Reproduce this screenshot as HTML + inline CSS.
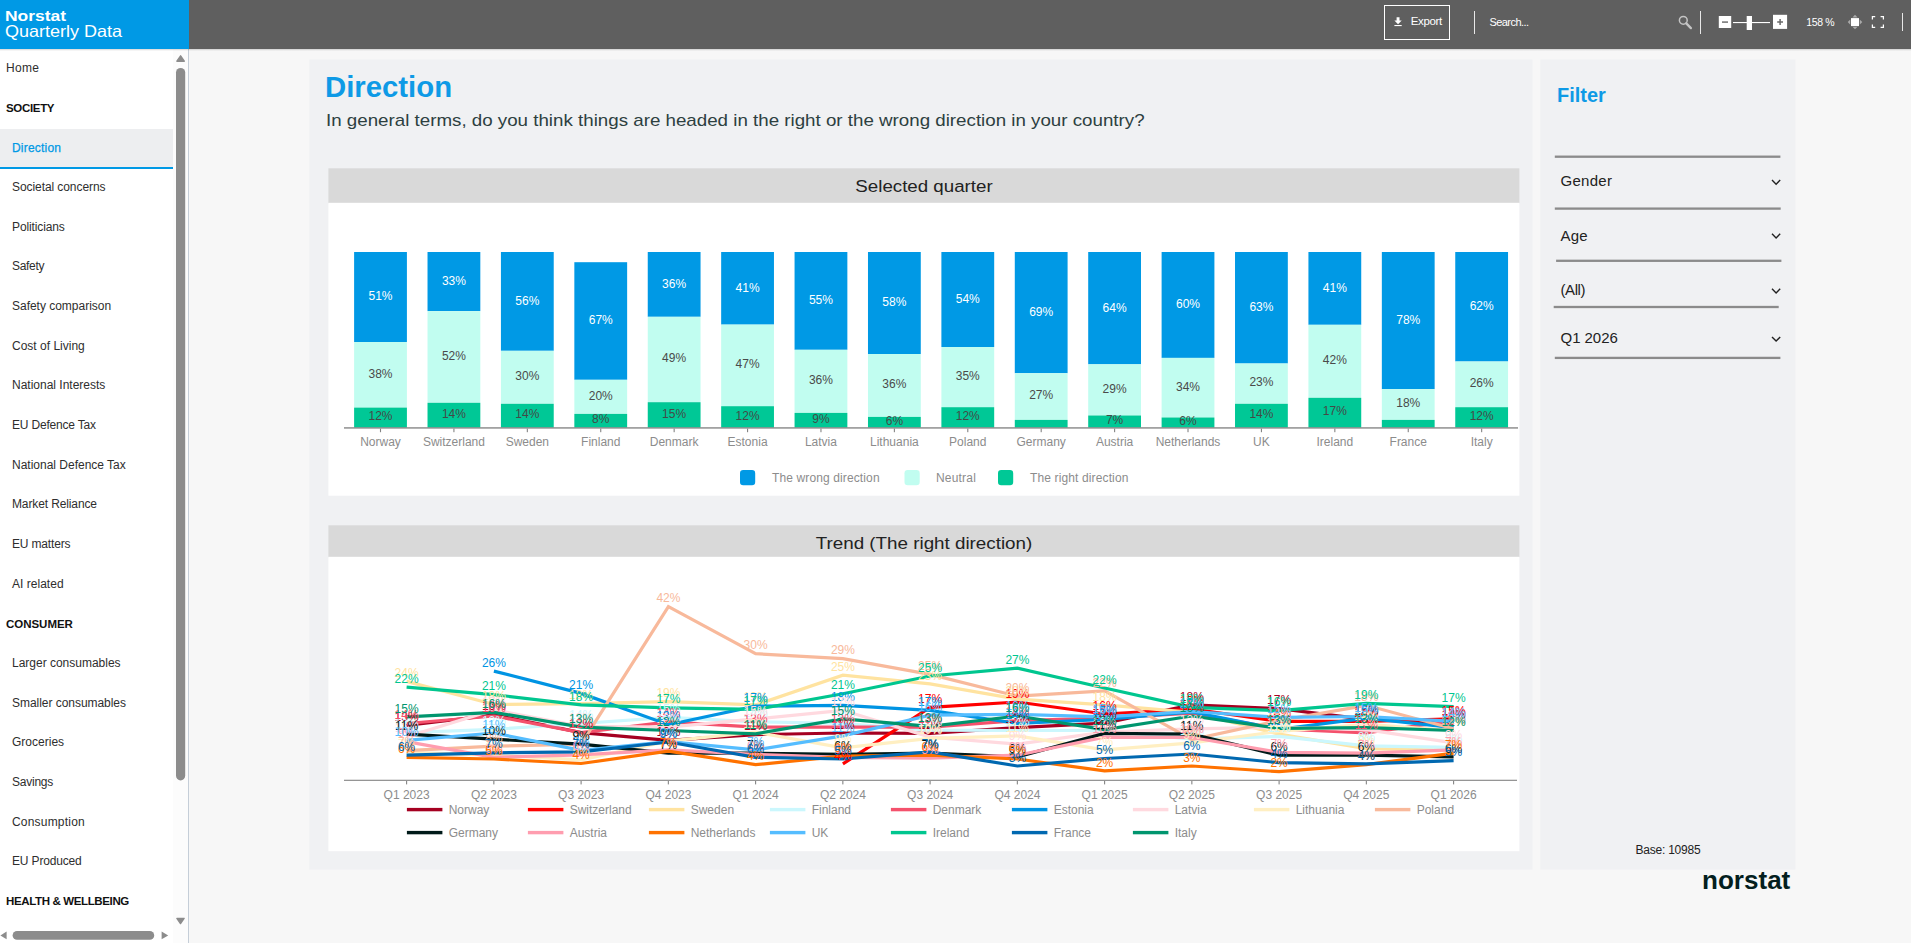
<!DOCTYPE html><html lang="en"><head><meta charset="utf-8"><title>Norstat Quarterly Data - Direction</title>
<style>
*{box-sizing:border-box}
html,body{margin:0;padding:0}
body{width:1911px;height:943px;overflow:hidden;background:#f7f7f7;font-family:"Liberation Sans", sans-serif;position:relative;color:#333}
.abs{position:absolute}
.t{position:absolute;white-space:nowrap;line-height:1}
#hblue{left:0;top:0;width:189px;height:48.5px;background:#0099e5}
#hdark{left:189px;top:0;width:1722px;height:48.5px;background:#5f5f5f}
#hshadow{left:0;top:48.5px;width:1911px;height:2px;background:linear-gradient(rgba(0,0,0,.16),rgba(0,0,0,0))}
#side{left:0;top:48.5px;width:188px;height:895px;background:#fff}
#sideb{left:187.6px;top:48.5px;width:1px;height:895px;background:#c5ced8}
.mi{position:absolute;left:0;width:173px;height:39.67px;font-size:12px;color:#2e2e2e;white-space:nowrap}
.mi span{position:absolute;left:12px;top:12.6px;line-height:14px}
.mh span{left:6px;top:13px;font-weight:bold;color:#111;font-size:11.5px}
.m0 span{left:6px}
.sel{background:#edeef0;border-bottom:2px solid #0099e5}
.sel span{color:#0099e5;-webkit-text-stroke:.25px #0099e5}
.panel{position:absolute;background:#f0f1f3}
.tbar{position:absolute;background:#d9d9d9}
.white{position:absolute;background:#fff}
.fl{position:absolute;height:2.4px;background:#8b8b8b}
.ft{position:absolute;white-space:nowrap;font-size:15px;line-height:1;color:#222;left:1560.5px}
svg{position:absolute;left:0;top:0}
</style></head><body>
<div class="abs" id="hblue"></div><div class="abs" id="hdark"></div>
<div class="t" id="logo1" style="left:5px;top:8.2px;font-size:15.5px;font-weight:bold;color:#fff;transform:scaleX(1.1259);transform-origin:left center;">Norstat</div>
<div class="t" id="logo2" style="left:5px;top:23.3px;font-size:16.5px;color:#fff;transform:scaleX(1.0914);transform-origin:left center;">Quarterly Data</div>
<div class="abs" style="left:1383.8px;top:5px;width:66.4px;height:34.8px;border:1.3px solid #fff"></div>
<div class="t" id="export" style="left:1410.8px;top:15.6px;font-size:11.5px;color:#fff;letter-spacing:-0.370px;">Export</div>
<div class="abs" style="left:1474px;top:11.4px;width:1.2px;height:23px;background:#e8e8e8"></div>
<div class="t" id="search" style="left:1489.4px;top:16.6px;font-size:11px;color:#fff;letter-spacing:-0.541px;">Search...</div>
<div class="abs" style="left:1700px;top:11.4px;width:1.2px;height:23px;background:#e8e8e8"></div>
<div class="abs" style="left:1901.8px;top:13px;width:1.2px;height:18px;background:#e8e8e8"></div>
<div class="t" id="zoom" style="left:1806.2px;top:16.5px;font-size:10.5px;color:#fff;letter-spacing:-0.345px;">158 %</div>
<div class="abs" id="side"></div><div class="abs" style="left:173px;top:48.5px;width:15px;height:895px;background:#fcfcfc"></div><div class="abs" id="sideb"></div><div class="abs" id="hshadow"></div>
<div class="mi m0" style="top:48.40px"><span id="mi0" style="letter-spacing:0.295px;">Home</span></div>
<div class="mi mh" style="top:88.07px"><span id="mi1" style="letter-spacing:-0.331px;">SOCIETY</span></div>
<div class="mi sel" style="top:129.2px;height:39.6px"><span id="mi2" style="top:11.73px;letter-spacing:0.205px;">Direction</span></div>
<div class="mi " style="top:167.40px"><span id="mi3" style="letter-spacing:-0.076px;">Societal concerns</span></div>
<div class="mi " style="top:207.07px"><span id="mi4" style="letter-spacing:-0.123px;">Politicians</span></div>
<div class="mi " style="top:246.74px"><span id="mi5" style="letter-spacing:-0.326px;">Safety</span></div>
<div class="mi " style="top:286.40px"><span id="mi6" style="letter-spacing:-0.018px;">Safety comparison</span></div>
<div class="mi " style="top:326.07px"><span id="mi7" style="letter-spacing:0.007px;">Cost of Living</span></div>
<div class="mi " style="top:365.74px"><span id="mi8" style="letter-spacing:-0.005px;">National Interests</span></div>
<div class="mi " style="top:405.40px"><span id="mi9" style="letter-spacing:-0.192px;">EU Defence Tax</span></div>
<div class="mi " style="top:445.07px"><span id="mi10" style="letter-spacing:-0.003px;">National Defence Tax</span></div>
<div class="mi " style="top:484.74px"><span id="mi11" style="letter-spacing:-0.122px;">Market Reliance</span></div>
<div class="mi " style="top:524.40px"><span id="mi12" style="letter-spacing:-0.168px;">EU matters</span></div>
<div class="mi " style="top:564.07px"><span id="mi13" style="letter-spacing:0.025px;">AI related</span></div>
<div class="mi mh" style="top:603.74px"><span id="mi14" style="letter-spacing:-0.028px;">CONSUMER</span></div>
<div class="mi " style="top:643.41px"><span id="mi15" style="letter-spacing:-0.008px;">Larger consumables</span></div>
<div class="mi " style="top:683.07px"><span id="mi16" style="letter-spacing:-0.040px;">Smaller consumables</span></div>
<div class="mi " style="top:722.74px"><span id="mi17" style="letter-spacing:0.011px;">Groceries</span></div>
<div class="mi " style="top:762.41px"><span id="mi18" style="letter-spacing:-0.234px;">Savings</span></div>
<div class="mi " style="top:802.07px"><span id="mi19" style="letter-spacing:0.198px;">Consumption</span></div>
<div class="mi " style="top:841.74px"><span id="mi20" style="letter-spacing:-0.158px;">EU Produced</span></div>
<div class="mi mh" style="top:881.41px"><span id="mi21" style="letter-spacing:-0.364px;">HEALTH &amp; WELLBEING</span></div>
<svg width="1911" height="943" viewBox="0 0 1911 943">
<rect x="309.3" y="59.5" width="1223.2" height="810.1" fill="#f0f1f3"/>
<rect x="1540.3" y="59.5" width="255.1" height="810.1" fill="#f0f1f3"/>
<rect x="328.4" y="168.3" width="1191" height="35" fill="#d9d9d9"/>
<rect x="328.4" y="202.8" width="1191" height="292.9" fill="#fff"/>
<rect x="328.4" y="525.3" width="1191" height="32" fill="#d9d9d9"/>
<rect x="328.4" y="556.8" width="1191" height="294.4" fill="#fff"/>
</svg>
<div class="t" id="h1" style="left:325px;top:71.6px;font-size:30px;font-weight:bold;color:#0e9ae6;transform:scaleX(0.9775);transform-origin:left center;">Direction</div>
<div class="t" id="sub" style="left:326px;top:112px;font-size:17px;color:#2d4040;transform:scaleX(1.1021);transform-origin:left center;">In general terms, do you think things are headed in the right or the wrong direction in your country?</div>
<div class="t" id="ct1" style="left:924px;top:178.3px;font-size:17.4px;color:#222;transform:translateX(-50%) scaleX(1.0758);transform-origin:center center;">Selected quarter</div>
<div class="t" id="ct2" style="left:924px;top:535.1px;font-size:17.4px;color:#222;transform:translateX(-50%) scaleX(1.0808);transform-origin:center center;">Trend (The right direction)</div>
<div class="t" id="flt" style="left:1556.5px;top:84.8px;font-size:20.5px;font-weight:bold;color:#0e9ae6;transform:scaleX(0.9736);transform-origin:left center;">Filter</div>
<div class="ft" id="ft0" style="top:173.1px;letter-spacing:0.291px;">Gender</div>
<div class="ft" id="ft1" style="top:227.6px;letter-spacing:0.198px;">Age</div>
<div class="ft" id="ft2" style="top:281.9px;letter-spacing:-0.418px;">(All)</div>
<div class="ft" id="ft3" style="top:330.4px;letter-spacing:-0.041px;">Q1 2026</div>
<div class="t" id="base" style="left:1635.5px;top:843.6px;font-size:12px;color:#222;letter-spacing:-0.229px;">Base: 10985</div>
<div class="t" id="brand" style="left:1701.5px;top:867.6px;font-size:25px;font-weight:bold;color:#041f1e;transform:scaleX(1.0421);transform-origin:left center;">norstat</div>
<svg width="1911" height="943" viewBox="0 0 1911 943" font-family='"Liberation Sans", sans-serif'>
<g fill="#fff"><path d="M1396.6 17.3h2.9v3.2h2.2l-3.65 3.7-3.65-3.7h2.2z"/><rect x="1394.4" y="25" width="7.3" height="1.1"/></g>
<g fill="none" stroke="#c4c4c4"><circle cx="1683.3" cy="20.3" r="3.9" stroke-width="1.5"/><path d="M1686.3 23.4l4.6 4.7" stroke-width="2.3" stroke-linecap="round"/></g>
<rect x="1718.8" y="16" width="12.4" height="12" fill="#fff"/><rect x="1722" y="21.3" width="6" height="1.6" fill="#7a7a7a"/>
<rect x="1733" y="22" width="37" height="1.1" fill="#fff"/>
<rect x="1746.7" y="16" width="5.3" height="14" fill="#fff"/>
<rect x="1773" y="14.8" width="14.1" height="14.1" fill="#fff"/><path d="M1777.2 22h5.8M1780.1 19.1v5.8" stroke="#6a6a6a" stroke-width="1.5"/>
<rect x="1851" y="18.1" width="8" height="8" fill="#fff"/>
<g fill="#a9a9a9"><path d="M1855 14.8l2.6 2.6h-5.2z"/><path d="M1855 29.3l2.6-2.6h-5.2z"/><path d="M1847.7 22.1l2.6-2.6v5.2z"/><path d="M1862.3 22.1l-2.6-2.6v5.2z"/></g>
<path d="M1872.4 19.4v-2.8h2.8M1880.6 16.6h2.8v2.8M1883.4 24.6v2.8h-2.8M1875.2 27.4h-2.8v-2.8" fill="none" stroke="#fff" stroke-width="1.25"/>
<path d="M176.9 61.2l3.7-5.4 3.7 5.4z" fill="#8c8c8c" stroke="#8c8c8c" stroke-width="1.4" stroke-linejoin="round"/>
<rect x="176" y="68" width="9.2" height="712.4" rx="4.6" fill="#8c8c8c"/>
<path d="M176.9 918.4l3.6 5.2 3.6-5.2z" fill="#8c8c8c" stroke="#8c8c8c" stroke-width="1.4" stroke-linejoin="round"/>
<rect x="12.6" y="931" width="141.6" height="8.8" rx="4.4" fill="#8c8c8c"/>
<path d="M6.6 931.6l-6.2 3.8 6.2 3.8z" fill="#8c8c8c"/><path d="M161.6 931.6l6.6 3.8-6.6 3.8z" fill="#8c8c8c"/>
<rect x="1554.8" y="155.55" width="225.6" height="2.3" fill="#8b8b8b"/>
<rect x="1554.8" y="207.45" width="225.9" height="2.3" fill="#8b8b8b"/>
<rect x="1556.1" y="259.65" width="225.3" height="2.3" fill="#8b8b8b"/>
<rect x="1553.7" y="305.85" width="225.0" height="2.3" fill="#8b8b8b"/>
<rect x="1554.8" y="356.75" width="225.6" height="2.3" fill="#8b8b8b"/>
<path d="M1772 180.1l4.1 4.1 4.1-4.1" fill="none" stroke="#222" stroke-width="1.4"/>
<path d="M1772 233.8l4.1 4.1 4.1-4.1" fill="none" stroke="#222" stroke-width="1.4"/>
<path d="M1772 288.8l4.1 4.1 4.1-4.1" fill="none" stroke="#222" stroke-width="1.4"/>
<path d="M1772 337.0l4.1 4.1 4.1-4.1" fill="none" stroke="#222" stroke-width="1.4"/>
<g shape-rendering="auto">
<rect x="354.11" y="252.00" width="52.8" height="90.00" fill="#0099e5"/>
<rect x="354.11" y="342.00" width="52.8" height="65.60" fill="#c1fdf0"/>
<rect x="354.11" y="407.60" width="52.8" height="20.00" fill="#00c896"/>
<rect x="427.52" y="252.00" width="52.8" height="59.10" fill="#0099e5"/>
<rect x="427.52" y="311.10" width="52.8" height="91.70" fill="#c1fdf0"/>
<rect x="427.52" y="402.80" width="52.8" height="24.80" fill="#00c896"/>
<rect x="500.93" y="252.00" width="52.8" height="98.80" fill="#0099e5"/>
<rect x="500.93" y="350.80" width="52.8" height="53.00" fill="#c1fdf0"/>
<rect x="500.93" y="403.80" width="52.8" height="23.80" fill="#00c896"/>
<rect x="574.34" y="262.20" width="52.8" height="117.60" fill="#0099e5"/>
<rect x="574.34" y="379.80" width="52.8" height="34.10" fill="#c1fdf0"/>
<rect x="574.34" y="413.90" width="52.8" height="13.70" fill="#00c896"/>
<rect x="647.75" y="252.00" width="52.8" height="64.80" fill="#0099e5"/>
<rect x="647.75" y="316.80" width="52.8" height="85.40" fill="#c1fdf0"/>
<rect x="647.75" y="402.20" width="52.8" height="25.40" fill="#00c896"/>
<rect x="721.16" y="252.00" width="52.8" height="72.60" fill="#0099e5"/>
<rect x="721.16" y="324.60" width="52.8" height="81.60" fill="#c1fdf0"/>
<rect x="721.16" y="406.20" width="52.8" height="21.40" fill="#00c896"/>
<rect x="794.56" y="252.00" width="52.8" height="97.80" fill="#0099e5"/>
<rect x="794.56" y="349.80" width="52.8" height="63.10" fill="#c1fdf0"/>
<rect x="794.56" y="412.90" width="52.8" height="14.70" fill="#00c896"/>
<rect x="867.98" y="252.00" width="52.8" height="102.00" fill="#0099e5"/>
<rect x="867.98" y="354.00" width="52.8" height="62.90" fill="#c1fdf0"/>
<rect x="867.98" y="416.90" width="52.8" height="10.70" fill="#00c896"/>
<rect x="941.39" y="252.00" width="52.8" height="95.00" fill="#0099e5"/>
<rect x="941.39" y="347.00" width="52.8" height="60.20" fill="#c1fdf0"/>
<rect x="941.39" y="407.20" width="52.8" height="20.40" fill="#00c896"/>
<rect x="1014.79" y="252.00" width="52.8" height="121.20" fill="#0099e5"/>
<rect x="1014.79" y="373.20" width="52.8" height="46.70" fill="#c1fdf0"/>
<rect x="1014.79" y="419.90" width="52.8" height="7.70" fill="#00c896"/>
<rect x="1088.20" y="252.00" width="52.8" height="112.30" fill="#0099e5"/>
<rect x="1088.20" y="364.30" width="52.8" height="51.20" fill="#c1fdf0"/>
<rect x="1088.20" y="415.50" width="52.8" height="12.10" fill="#00c896"/>
<rect x="1161.61" y="252.00" width="52.8" height="105.90" fill="#0099e5"/>
<rect x="1161.61" y="357.90" width="52.8" height="59.60" fill="#c1fdf0"/>
<rect x="1161.61" y="417.50" width="52.8" height="10.10" fill="#00c896"/>
<rect x="1235.02" y="252.00" width="52.8" height="111.50" fill="#0099e5"/>
<rect x="1235.02" y="363.50" width="52.8" height="40.30" fill="#c1fdf0"/>
<rect x="1235.02" y="403.80" width="52.8" height="23.80" fill="#00c896"/>
<rect x="1308.43" y="252.00" width="52.8" height="72.80" fill="#0099e5"/>
<rect x="1308.43" y="324.80" width="52.8" height="73.00" fill="#c1fdf0"/>
<rect x="1308.43" y="397.80" width="52.8" height="29.80" fill="#00c896"/>
<rect x="1381.84" y="252.00" width="52.8" height="137.10" fill="#0099e5"/>
<rect x="1381.84" y="389.10" width="52.8" height="30.80" fill="#c1fdf0"/>
<rect x="1381.84" y="419.90" width="52.8" height="7.70" fill="#00c896"/>
<rect x="1455.25" y="252.00" width="52.8" height="109.50" fill="#0099e5"/>
<rect x="1455.25" y="361.50" width="52.8" height="45.70" fill="#c1fdf0"/>
<rect x="1455.25" y="407.20" width="52.8" height="20.40" fill="#00c896"/>
</g>
<rect x="344" y="427.25" width="1174" height="1.35" fill="#848484"/>
<rect x="379.95" y="428.60" width="1.1" height="3.6" fill="#848484"/>
<rect x="453.37" y="428.60" width="1.1" height="3.6" fill="#848484"/>
<rect x="526.78" y="428.60" width="1.1" height="3.6" fill="#848484"/>
<rect x="600.19" y="428.60" width="1.1" height="3.6" fill="#848484"/>
<rect x="673.60" y="428.60" width="1.1" height="3.6" fill="#848484"/>
<rect x="747.01" y="428.60" width="1.1" height="3.6" fill="#848484"/>
<rect x="820.41" y="428.60" width="1.1" height="3.6" fill="#848484"/>
<rect x="893.83" y="428.60" width="1.1" height="3.6" fill="#848484"/>
<rect x="967.24" y="428.60" width="1.1" height="3.6" fill="#848484"/>
<rect x="1040.64" y="428.60" width="1.1" height="3.6" fill="#848484"/>
<rect x="1114.06" y="428.60" width="1.1" height="3.6" fill="#848484"/>
<rect x="1187.46" y="428.60" width="1.1" height="3.6" fill="#848484"/>
<rect x="1260.88" y="428.60" width="1.1" height="3.6" fill="#848484"/>
<rect x="1334.29" y="428.60" width="1.1" height="3.6" fill="#848484"/>
<rect x="1407.69" y="428.60" width="1.1" height="3.6" fill="#848484"/>
<rect x="1481.11" y="428.60" width="1.1" height="3.6" fill="#848484"/>
<g font-size="12" text-anchor="middle">
<text x="380.50" y="300.40" fill="#fff">51%</text>
<text x="380.50" y="377.60" fill="#4a4a4a">38%</text>
<text x="380.50" y="420.30" fill="#444a47">12%</text>
<text x="380.50" y="446.2" fill="#8c8c8c">Norway</text>
<text x="453.92" y="284.95" fill="#fff">33%</text>
<text x="453.92" y="359.75" fill="#4a4a4a">52%</text>
<text x="453.92" y="417.90" fill="#444a47">14%</text>
<text x="453.92" y="446.2" fill="#8c8c8c">Switzerland</text>
<text x="527.33" y="304.80" fill="#fff">56%</text>
<text x="527.33" y="380.10" fill="#4a4a4a">30%</text>
<text x="527.33" y="418.40" fill="#444a47">14%</text>
<text x="527.33" y="446.2" fill="#8c8c8c">Sweden</text>
<text x="600.74" y="324.40" fill="#fff">67%</text>
<text x="600.74" y="399.65" fill="#4a4a4a">20%</text>
<text x="600.74" y="423.45" fill="#444a47">8%</text>
<text x="600.74" y="446.2" fill="#8c8c8c">Finland</text>
<text x="674.14" y="287.80" fill="#fff">36%</text>
<text x="674.14" y="362.30" fill="#4a4a4a">49%</text>
<text x="674.14" y="417.60" fill="#444a47">15%</text>
<text x="674.14" y="446.2" fill="#8c8c8c">Denmark</text>
<text x="747.56" y="291.70" fill="#fff">41%</text>
<text x="747.56" y="368.20" fill="#4a4a4a">47%</text>
<text x="747.56" y="419.60" fill="#444a47">12%</text>
<text x="747.56" y="446.2" fill="#8c8c8c">Estonia</text>
<text x="820.96" y="304.30" fill="#fff">55%</text>
<text x="820.96" y="384.15" fill="#4a4a4a">36%</text>
<text x="820.96" y="422.95" fill="#444a47">9%</text>
<text x="820.96" y="446.2" fill="#8c8c8c">Latvia</text>
<text x="894.38" y="306.40" fill="#fff">58%</text>
<text x="894.38" y="388.25" fill="#4a4a4a">36%</text>
<text x="894.38" y="424.95" fill="#444a47">6%</text>
<text x="894.38" y="446.2" fill="#8c8c8c">Lithuania</text>
<text x="967.79" y="302.90" fill="#fff">54%</text>
<text x="967.79" y="379.90" fill="#4a4a4a">35%</text>
<text x="967.79" y="420.10" fill="#444a47">12%</text>
<text x="967.79" y="446.2" fill="#8c8c8c">Poland</text>
<text x="1041.19" y="316.00" fill="#fff">69%</text>
<text x="1041.19" y="399.35" fill="#4a4a4a">27%</text>
<text x="1041.19" y="446.2" fill="#8c8c8c">Germany</text>
<text x="1114.61" y="311.55" fill="#fff">64%</text>
<text x="1114.61" y="392.70" fill="#4a4a4a">29%</text>
<text x="1114.61" y="424.25" fill="#444a47">7%</text>
<text x="1114.61" y="446.2" fill="#8c8c8c">Austria</text>
<text x="1188.01" y="308.35" fill="#fff">60%</text>
<text x="1188.01" y="390.50" fill="#4a4a4a">34%</text>
<text x="1188.01" y="425.25" fill="#444a47">6%</text>
<text x="1188.01" y="446.2" fill="#8c8c8c">Netherlands</text>
<text x="1261.42" y="311.15" fill="#fff">63%</text>
<text x="1261.42" y="386.45" fill="#4a4a4a">23%</text>
<text x="1261.42" y="418.40" fill="#444a47">14%</text>
<text x="1261.42" y="446.2" fill="#8c8c8c">UK</text>
<text x="1334.84" y="291.80" fill="#fff">41%</text>
<text x="1334.84" y="364.10" fill="#4a4a4a">42%</text>
<text x="1334.84" y="415.40" fill="#444a47">17%</text>
<text x="1334.84" y="446.2" fill="#8c8c8c">Ireland</text>
<text x="1408.24" y="323.95" fill="#fff">78%</text>
<text x="1408.24" y="407.30" fill="#4a4a4a">18%</text>
<text x="1408.24" y="446.2" fill="#8c8c8c">France</text>
<text x="1481.65" y="310.15" fill="#fff">62%</text>
<text x="1481.65" y="387.15" fill="#4a4a4a">26%</text>
<text x="1481.65" y="420.10" fill="#444a47">12%</text>
<text x="1481.65" y="446.2" fill="#8c8c8c">Italy</text>
</g>
<rect x="740" y="470" width="15.2" height="15.2" rx="3.2" fill="#0099e5"/>
<text x="772" y="482.1" font-size="12" fill="#8c8c8c" textLength="107.6" lengthAdjust="spacing">The wrong direction</text>
<rect x="904.5" y="470" width="15.2" height="15.2" rx="3.2" fill="#c1fdf0"/>
<text x="936" y="482.1" font-size="12" fill="#8c8c8c" textLength="39.8" lengthAdjust="spacing">Neutral</text>
<rect x="998" y="470" width="15.2" height="15.2" rx="3.2" fill="#00c896"/>
<text x="1030" y="482.1" font-size="12" fill="#8c8c8c" textLength="98.4" lengthAdjust="spacing">The right direction</text>
<g fill="none" stroke-width="3.2" stroke-linejoin="miter" stroke-linecap="butt">
<path d="M406.6 725.5L493.9 714.8L581.1 732.6L668.4 740.4L755.6 734.6L842.9 733.0L930.1 733.4L1017.4 727.6L1104.6 723.1L1191.8 704.9L1279.1 708.6L1366.3 719.3L1453.6 723.1" stroke="#a50021"/>
<path d="M842.9 763.9L930.1 707.4L1017.4 702.0L1104.6 714.0L1191.8 709.0L1279.1 721.4L1366.3 721.4L1453.6 718.9" stroke="#ff0000"/>
<path d="M406.6 681.4L493.9 704.5L581.1 703.7L668.4 701.6L755.6 704.9L842.9 675.2L930.1 683.9L1017.4 699.1L1104.6 704.9L1191.8 712.3L1279.1 734.2L1366.3 748.6L1453.6 750.3" stroke="#ffe3a0"/>
<path d="M406.6 732.6L493.9 729.3L581.1 723.5L668.4 717.3L755.6 721.8L842.9 723.5L930.1 730.1L1017.4 730.5L1104.6 730.5L1191.8 739.2L1279.1 736.3L1366.3 745.8L1453.6 747.4" stroke="#cbf7fd"/>
<path d="M406.6 723.5L493.9 716.0L581.1 732.6L668.4 721.8L755.6 727.2L842.9 727.2L930.1 727.2L1017.4 720.6L1104.6 718.1L1191.8 713.2L1279.1 728.8L1366.3 733.0L1453.6 720.6" stroke="#f4516c"/>
<path d="M493.9 671.1L581.1 693.4L668.4 724.7L755.6 706.1L842.9 705.3L930.1 710.3L1017.4 723.5L1104.6 719.3L1191.8 711.9L1279.1 729.3L1366.3 718.1L1453.6 727.6" stroke="#0094e3"/>
<path d="M406.6 736.7L493.9 709.9L581.1 726.4L668.4 727.2L755.6 718.9L842.9 710.3L930.1 737.1L1017.4 744.1L1104.6 732.1L1191.8 728.8L1279.1 727.2L1366.3 729.7L1453.6 742.9" stroke="#ffd9df"/>
<path d="M406.6 752.4L493.9 755.2L581.1 759.8L668.4 741.2L755.6 732.1L842.9 747.8L930.1 738.3L1017.4 735.9L1104.6 749.9L1191.8 742.9L1279.1 731.3L1366.3 724.3L1453.6 730.5" stroke="#ffefc2"/>
<path d="M406.6 750.7L493.9 746.2L581.1 744.1L668.4 606.7L755.6 653.7L842.9 658.7L930.1 674.4L1017.4 696.2L1104.6 690.9L1191.8 739.6L1279.1 720.6L1366.3 705.3L1453.6 728.8" stroke="#f8b99b"/>
<path d="M406.6 734.2L493.9 739.2L581.1 744.1L668.4 753.2L755.6 753.2L842.9 754.4L930.1 753.2L1017.4 756.9L1104.6 733.4L1191.8 734.2L1279.1 755.2L1366.3 755.2L1453.6 756.9" stroke="#001a19"/>
<path d="M406.6 741.6L493.9 757.3L581.1 754.8L668.4 749.9L755.6 754.4L842.9 757.3L930.1 758.1L1017.4 755.2L1104.6 737.1L1191.8 737.5L1279.1 752.4L1366.3 753.2L1453.6 749.9" stroke="#ff9daf"/>
<path d="M406.6 757.3L493.9 759.0L581.1 763.5L668.4 751.1L755.6 764.7L842.9 756.1L930.1 755.2L1017.4 759.0L1104.6 770.9L1191.8 766.0L1279.1 771.7L1366.3 764.7L1453.6 753.2" stroke="#ff7200"/>
<path d="M406.6 740.4L493.9 733.0L581.1 750.3L668.4 741.6L755.6 749.9L842.9 735.9L930.1 715.2L1017.4 714.4L1104.6 716.9L1191.8 711.5L1279.1 717.3L1366.3 716.5L1453.6 721.4" stroke="#55bdff"/>
<path d="M406.6 687.2L493.9 694.6L581.1 704.9L668.4 707.8L755.6 709.4L842.9 693.8L930.1 676.0L1017.4 668.2L1104.6 688.0L1191.8 707.4L1279.1 710.7L1366.3 703.3L1453.6 706.6" stroke="#00c68f"/>
<path d="M406.6 755.2L493.9 752.8L581.1 751.9L668.4 742.0L755.6 757.3L842.9 759.0L930.1 751.9L1017.4 766.0L1104.6 758.5L1191.8 754.0L1279.1 762.7L1366.3 763.9L1453.6 760.6" stroke="#0068b0"/>
<path d="M406.6 716.9L493.9 712.3L581.1 727.2L668.4 730.5L755.6 733.8L842.9 718.9L930.1 726.4L1017.4 716.0L1104.6 729.7L1191.8 716.0L1279.1 728.4L1366.3 727.6L1453.6 730.5" stroke="#00956e"/>
</g>
<g font-size="12" text-anchor="middle">
<text x="406.6" y="721.1" fill="#a50021">13%</text>
<text x="493.9" y="710.4" fill="#a50021">16%</text>
<text x="581.1" y="728.2" fill="#a50021">12%</text>
<text x="668.4" y="736.0" fill="#a50021">10%</text>
<text x="755.6" y="730.2" fill="#a50021">11%</text>
<text x="842.9" y="728.6" fill="#a50021">11%</text>
<text x="930.1" y="729.0" fill="#a50021">11%</text>
<text x="1017.4" y="723.2" fill="#a50021">13%</text>
<text x="1104.6" y="718.7" fill="#a50021">14%</text>
<text x="1191.8" y="700.5" fill="#a50021">18%</text>
<text x="1279.1" y="704.2" fill="#a50021">17%</text>
<text x="1366.3" y="714.9" fill="#a50021">15%</text>
<text x="1453.6" y="718.7" fill="#a50021">14%</text>
<text x="842.9" y="759.5" fill="#ff0000">4%</text>
<text x="930.1" y="703.0" fill="#ff0000">17%</text>
<text x="1017.4" y="697.6" fill="#ff0000">19%</text>
<text x="1104.6" y="709.6" fill="#ff0000">16%</text>
<text x="1191.8" y="704.6" fill="#ff0000">17%</text>
<text x="1279.1" y="717.0" fill="#ff0000">14%</text>
<text x="1366.3" y="717.0" fill="#ff0000">14%</text>
<text x="1453.6" y="714.5" fill="#ff0000">15%</text>
<text x="406.6" y="677.0" fill="#ffe3a0">24%</text>
<text x="493.9" y="700.1" fill="#ffe3a0">18%</text>
<text x="581.1" y="699.3" fill="#ffe3a0">18%</text>
<text x="668.4" y="697.2" fill="#ffe3a0">19%</text>
<text x="755.6" y="700.5" fill="#ffe3a0">19%</text>
<text x="842.9" y="670.8" fill="#ffe3a0">25%</text>
<text x="930.1" y="679.5" fill="#ffe3a0">23%</text>
<text x="1017.4" y="694.7" fill="#ffe3a0">20%</text>
<text x="1104.6" y="700.5" fill="#ffe3a0">18%</text>
<text x="1191.8" y="707.9" fill="#ffe3a0">16%</text>
<text x="1279.1" y="729.8" fill="#ffe3a0">11%</text>
<text x="1366.3" y="744.2" fill="#ffe3a0">8%</text>
<text x="1453.6" y="745.9" fill="#ffe3a0">7%</text>
<text x="406.6" y="728.2" fill="#cbf7fd">12%</text>
<text x="493.9" y="724.9" fill="#cbf7fd">12%</text>
<text x="581.1" y="719.1" fill="#cbf7fd">14%</text>
<text x="668.4" y="712.9" fill="#cbf7fd">15%</text>
<text x="755.6" y="717.4" fill="#cbf7fd">14%</text>
<text x="842.9" y="719.1" fill="#cbf7fd">14%</text>
<text x="930.1" y="725.7" fill="#cbf7fd">12%</text>
<text x="1017.4" y="726.1" fill="#cbf7fd">12%</text>
<text x="1104.6" y="726.1" fill="#cbf7fd">12%</text>
<text x="1191.8" y="734.8" fill="#cbf7fd">10%</text>
<text x="1279.1" y="731.9" fill="#cbf7fd">11%</text>
<text x="1366.3" y="741.4" fill="#cbf7fd">8%</text>
<text x="1453.6" y="743.0" fill="#cbf7fd">8%</text>
<text x="406.6" y="719.1" fill="#f4516c">14%</text>
<text x="493.9" y="711.6" fill="#f4516c">16%</text>
<text x="581.1" y="728.2" fill="#f4516c">12%</text>
<text x="668.4" y="717.4" fill="#f4516c">14%</text>
<text x="755.6" y="722.8" fill="#f4516c">13%</text>
<text x="842.9" y="722.8" fill="#f4516c">13%</text>
<text x="930.1" y="722.8" fill="#f4516c">13%</text>
<text x="1017.4" y="716.2" fill="#f4516c">14%</text>
<text x="1104.6" y="713.7" fill="#f4516c">15%</text>
<text x="1191.8" y="708.8" fill="#f4516c">16%</text>
<text x="1279.1" y="724.4" fill="#f4516c">12%</text>
<text x="1366.3" y="728.6" fill="#f4516c">11%</text>
<text x="1453.6" y="716.2" fill="#f4516c">14%</text>
<text x="493.9" y="666.7" fill="#0094e3">26%</text>
<text x="581.1" y="689.0" fill="#0094e3">21%</text>
<text x="668.4" y="720.3" fill="#0094e3">13%</text>
<text x="755.6" y="701.7" fill="#0094e3">17%</text>
<text x="842.9" y="700.9" fill="#0094e3">18%</text>
<text x="930.1" y="705.9" fill="#0094e3">17%</text>
<text x="1017.4" y="719.1" fill="#0094e3">14%</text>
<text x="1104.6" y="714.9" fill="#0094e3">15%</text>
<text x="1191.8" y="707.5" fill="#0094e3">17%</text>
<text x="1279.1" y="724.9" fill="#0094e3">12%</text>
<text x="1366.3" y="713.7" fill="#0094e3">15%</text>
<text x="1453.6" y="723.2" fill="#0094e3">13%</text>
<text x="406.6" y="732.3" fill="#ffd9df">11%</text>
<text x="493.9" y="705.5" fill="#ffd9df">17%</text>
<text x="581.1" y="722.0" fill="#ffd9df">13%</text>
<text x="668.4" y="722.8" fill="#ffd9df">13%</text>
<text x="755.6" y="714.5" fill="#ffd9df">15%</text>
<text x="842.9" y="705.9" fill="#ffd9df">17%</text>
<text x="930.1" y="732.7" fill="#ffd9df">10%</text>
<text x="1017.4" y="739.7" fill="#ffd9df">9%</text>
<text x="1104.6" y="727.7" fill="#ffd9df">12%</text>
<text x="1191.8" y="724.4" fill="#ffd9df">12%</text>
<text x="1279.1" y="722.8" fill="#ffd9df">13%</text>
<text x="1366.3" y="725.3" fill="#ffd9df">12%</text>
<text x="1453.6" y="738.5" fill="#ffd9df">9%</text>
<text x="406.6" y="748.0" fill="#ffefc2">7%</text>
<text x="493.9" y="750.8" fill="#ffefc2">6%</text>
<text x="581.1" y="755.4" fill="#ffefc2">5%</text>
<text x="668.4" y="736.8" fill="#ffefc2">9%</text>
<text x="755.6" y="727.7" fill="#ffefc2">12%</text>
<text x="842.9" y="743.4" fill="#ffefc2">8%</text>
<text x="930.1" y="733.9" fill="#ffefc2">10%</text>
<text x="1017.4" y="731.5" fill="#ffefc2">11%</text>
<text x="1104.6" y="745.5" fill="#ffefc2">7%</text>
<text x="1191.8" y="738.5" fill="#ffefc2">9%</text>
<text x="1279.1" y="726.9" fill="#ffefc2">12%</text>
<text x="1366.3" y="719.9" fill="#ffefc2">14%</text>
<text x="1453.6" y="726.1" fill="#ffefc2">12%</text>
<text x="406.6" y="746.3" fill="#f8b99b">7%</text>
<text x="493.9" y="741.8" fill="#f8b99b">8%</text>
<text x="581.1" y="739.7" fill="#f8b99b">9%</text>
<text x="668.4" y="602.3" fill="#f8b99b">42%</text>
<text x="755.6" y="649.3" fill="#f8b99b">30%</text>
<text x="842.9" y="654.3" fill="#f8b99b">29%</text>
<text x="930.1" y="670.0" fill="#f8b99b">25%</text>
<text x="1017.4" y="691.8" fill="#f8b99b">20%</text>
<text x="1104.6" y="686.5" fill="#f8b99b">22%</text>
<text x="1191.8" y="735.2" fill="#f8b99b">9%</text>
<text x="1279.1" y="716.2" fill="#f8b99b">14%</text>
<text x="1366.3" y="700.9" fill="#f8b99b">18%</text>
<text x="1453.6" y="724.4" fill="#f8b99b">12%</text>
<text x="406.6" y="729.8" fill="#001a19">11%</text>
<text x="493.9" y="734.8" fill="#001a19">10%</text>
<text x="581.1" y="739.7" fill="#001a19">9%</text>
<text x="668.4" y="748.8" fill="#001a19">7%</text>
<text x="755.6" y="748.8" fill="#001a19">7%</text>
<text x="842.9" y="750.0" fill="#001a19">6%</text>
<text x="930.1" y="748.8" fill="#001a19">7%</text>
<text x="1017.4" y="752.5" fill="#001a19">6%</text>
<text x="1104.6" y="729.0" fill="#001a19">11%</text>
<text x="1191.8" y="729.8" fill="#001a19">11%</text>
<text x="1279.1" y="750.8" fill="#001a19">6%</text>
<text x="1366.3" y="750.8" fill="#001a19">6%</text>
<text x="1453.6" y="752.5" fill="#001a19">6%</text>
<text x="406.6" y="737.2" fill="#ff9daf">9%</text>
<text x="493.9" y="752.9" fill="#ff9daf">6%</text>
<text x="581.1" y="750.4" fill="#ff9daf">6%</text>
<text x="668.4" y="745.5" fill="#ff9daf">7%</text>
<text x="755.6" y="750.0" fill="#ff9daf">6%</text>
<text x="842.9" y="752.9" fill="#ff9daf">6%</text>
<text x="930.1" y="753.7" fill="#ff9daf">5%</text>
<text x="1017.4" y="750.8" fill="#ff9daf">6%</text>
<text x="1104.6" y="732.7" fill="#ff9daf">10%</text>
<text x="1191.8" y="733.1" fill="#ff9daf">10%</text>
<text x="1279.1" y="748.0" fill="#ff9daf">7%</text>
<text x="1366.3" y="748.8" fill="#ff9daf">7%</text>
<text x="1453.6" y="745.5" fill="#ff9daf">7%</text>
<text x="406.6" y="752.9" fill="#ff7200">6%</text>
<text x="493.9" y="754.6" fill="#ff7200">5%</text>
<text x="581.1" y="759.1" fill="#ff7200">4%</text>
<text x="668.4" y="746.7" fill="#ff7200">7%</text>
<text x="755.6" y="760.3" fill="#ff7200">4%</text>
<text x="842.9" y="751.7" fill="#ff7200">6%</text>
<text x="930.1" y="750.8" fill="#ff7200">6%</text>
<text x="1017.4" y="754.6" fill="#ff7200">5%</text>
<text x="1104.6" y="766.5" fill="#ff7200">2%</text>
<text x="1191.8" y="761.6" fill="#ff7200">3%</text>
<text x="1279.1" y="767.3" fill="#ff7200">2%</text>
<text x="1366.3" y="760.3" fill="#ff7200">4%</text>
<text x="1453.6" y="748.8" fill="#ff7200">7%</text>
<text x="406.6" y="736.0" fill="#55bdff">10%</text>
<text x="493.9" y="728.6" fill="#55bdff">11%</text>
<text x="581.1" y="745.9" fill="#55bdff">7%</text>
<text x="668.4" y="737.2" fill="#55bdff">9%</text>
<text x="755.6" y="745.5" fill="#55bdff">7%</text>
<text x="842.9" y="731.5" fill="#55bdff">11%</text>
<text x="930.1" y="710.8" fill="#55bdff">16%</text>
<text x="1017.4" y="710.0" fill="#55bdff">16%</text>
<text x="1104.6" y="712.5" fill="#55bdff">15%</text>
<text x="1191.8" y="707.1" fill="#55bdff">17%</text>
<text x="1279.1" y="712.9" fill="#55bdff">15%</text>
<text x="1366.3" y="712.1" fill="#55bdff">15%</text>
<text x="1453.6" y="717.0" fill="#55bdff">14%</text>
<text x="406.6" y="682.8" fill="#00c68f">22%</text>
<text x="493.9" y="690.2" fill="#00c68f">21%</text>
<text x="581.1" y="700.5" fill="#00c68f">18%</text>
<text x="668.4" y="703.4" fill="#00c68f">17%</text>
<text x="755.6" y="705.0" fill="#00c68f">17%</text>
<text x="842.9" y="689.4" fill="#00c68f">21%</text>
<text x="930.1" y="671.6" fill="#00c68f">25%</text>
<text x="1017.4" y="663.8" fill="#00c68f">27%</text>
<text x="1104.6" y="683.6" fill="#00c68f">22%</text>
<text x="1191.8" y="703.0" fill="#00c68f">18%</text>
<text x="1279.1" y="706.3" fill="#00c68f">16%</text>
<text x="1366.3" y="698.9" fill="#00c68f">19%</text>
<text x="1453.6" y="702.2" fill="#00c68f">17%</text>
<text x="406.6" y="750.8" fill="#0068b0">6%</text>
<text x="493.9" y="748.4" fill="#0068b0">7%</text>
<text x="581.1" y="747.5" fill="#0068b0">7%</text>
<text x="668.4" y="737.6" fill="#0068b0">9%</text>
<text x="755.6" y="752.9" fill="#0068b0">6%</text>
<text x="842.9" y="754.6" fill="#0068b0">5%</text>
<text x="930.1" y="747.5" fill="#0068b0">7%</text>
<text x="1017.4" y="761.6" fill="#0068b0">3%</text>
<text x="1104.6" y="754.1" fill="#0068b0">5%</text>
<text x="1191.8" y="749.6" fill="#0068b0">6%</text>
<text x="1279.1" y="758.3" fill="#0068b0">4%</text>
<text x="1366.3" y="759.5" fill="#0068b0">4%</text>
<text x="1453.6" y="756.2" fill="#0068b0">5%</text>
<text x="406.6" y="712.5" fill="#00956e">15%</text>
<text x="493.9" y="707.9" fill="#00956e">16%</text>
<text x="581.1" y="722.8" fill="#00956e">13%</text>
<text x="668.4" y="726.1" fill="#00956e">12%</text>
<text x="755.6" y="729.4" fill="#00956e">11%</text>
<text x="842.9" y="714.5" fill="#00956e">15%</text>
<text x="930.1" y="722.0" fill="#00956e">13%</text>
<text x="1017.4" y="711.6" fill="#00956e">16%</text>
<text x="1104.6" y="725.3" fill="#00956e">12%</text>
<text x="1191.8" y="711.6" fill="#00956e">16%</text>
<text x="1279.1" y="724.0" fill="#00956e">13%</text>
<text x="1366.3" y="723.2" fill="#00956e">13%</text>
<text x="1453.6" y="726.1" fill="#00956e">12%</text>
</g>
<rect x="344" y="779.75" width="1173" height="1.1" fill="#848484"/>
<g font-size="12" text-anchor="middle">
<rect x="406.05" y="781.0" width="1.1" height="3.4" fill="#848484"/>
<text x="406.6" y="799.4" fill="#8c8c8c">Q1 2023</text>
<rect x="493.30" y="781.0" width="1.1" height="3.4" fill="#848484"/>
<text x="493.9" y="799.4" fill="#8c8c8c">Q2 2023</text>
<rect x="580.55" y="781.0" width="1.1" height="3.4" fill="#848484"/>
<text x="581.1" y="799.4" fill="#8c8c8c">Q3 2023</text>
<rect x="667.80" y="781.0" width="1.1" height="3.4" fill="#848484"/>
<text x="668.4" y="799.4" fill="#8c8c8c">Q4 2023</text>
<rect x="755.05" y="781.0" width="1.1" height="3.4" fill="#848484"/>
<text x="755.6" y="799.4" fill="#8c8c8c">Q1 2024</text>
<rect x="842.30" y="781.0" width="1.1" height="3.4" fill="#848484"/>
<text x="842.9" y="799.4" fill="#8c8c8c">Q2 2024</text>
<rect x="929.55" y="781.0" width="1.1" height="3.4" fill="#848484"/>
<text x="930.1" y="799.4" fill="#8c8c8c">Q3 2024</text>
<rect x="1016.80" y="781.0" width="1.1" height="3.4" fill="#848484"/>
<text x="1017.4" y="799.4" fill="#8c8c8c">Q4 2024</text>
<rect x="1104.05" y="781.0" width="1.1" height="3.4" fill="#848484"/>
<text x="1104.6" y="799.4" fill="#8c8c8c">Q1 2025</text>
<rect x="1191.30" y="781.0" width="1.1" height="3.4" fill="#848484"/>
<text x="1191.8" y="799.4" fill="#8c8c8c">Q2 2025</text>
<rect x="1278.55" y="781.0" width="1.1" height="3.4" fill="#848484"/>
<text x="1279.1" y="799.4" fill="#8c8c8c">Q3 2025</text>
<rect x="1365.80" y="781.0" width="1.1" height="3.4" fill="#848484"/>
<text x="1366.3" y="799.4" fill="#8c8c8c">Q4 2025</text>
<rect x="1453.05" y="781.0" width="1.1" height="3.4" fill="#848484"/>
<text x="1453.6" y="799.4" fill="#8c8c8c">Q1 2026</text>
</g>
<rect x="406.9" y="807.9" width="35.5" height="3.4" fill="#a50021"/>
<text x="448.7" y="813.7" font-size="12" fill="#8c8c8c">Norway</text>
<rect x="527.9" y="807.9" width="35.5" height="3.4" fill="#ff0000"/>
<text x="569.7" y="813.7" font-size="12" fill="#8c8c8c">Switzerland</text>
<rect x="648.9" y="807.9" width="35.5" height="3.4" fill="#ffe3a0"/>
<text x="690.7" y="813.7" font-size="12" fill="#8c8c8c">Sweden</text>
<rect x="769.9" y="807.9" width="35.5" height="3.4" fill="#cbf7fd"/>
<text x="811.7" y="813.7" font-size="12" fill="#8c8c8c">Finland</text>
<rect x="890.9" y="807.9" width="35.5" height="3.4" fill="#f4516c"/>
<text x="932.7" y="813.7" font-size="12" fill="#8c8c8c">Denmark</text>
<rect x="1011.9" y="807.9" width="35.5" height="3.4" fill="#0094e3"/>
<text x="1053.7" y="813.7" font-size="12" fill="#8c8c8c">Estonia</text>
<rect x="1132.9" y="807.9" width="35.5" height="3.4" fill="#ffd9df"/>
<text x="1174.7" y="813.7" font-size="12" fill="#8c8c8c">Latvia</text>
<rect x="1253.9" y="807.9" width="35.5" height="3.4" fill="#ffefc2"/>
<text x="1295.7" y="813.7" font-size="12" fill="#8c8c8c">Lithuania</text>
<rect x="1374.9" y="807.9" width="35.5" height="3.4" fill="#f8b99b"/>
<text x="1416.7" y="813.7" font-size="12" fill="#8c8c8c">Poland</text>
<rect x="406.9" y="830.9" width="35.5" height="3.4" fill="#001a19"/>
<text x="448.7" y="836.7" font-size="12" fill="#8c8c8c">Germany</text>
<rect x="527.9" y="830.9" width="35.5" height="3.4" fill="#ff9daf"/>
<text x="569.7" y="836.7" font-size="12" fill="#8c8c8c">Austria</text>
<rect x="648.9" y="830.9" width="35.5" height="3.4" fill="#ff7200"/>
<text x="690.7" y="836.7" font-size="12" fill="#8c8c8c">Netherlands</text>
<rect x="769.9" y="830.9" width="35.5" height="3.4" fill="#55bdff"/>
<text x="811.7" y="836.7" font-size="12" fill="#8c8c8c">UK</text>
<rect x="890.9" y="830.9" width="35.5" height="3.4" fill="#00c68f"/>
<text x="932.7" y="836.7" font-size="12" fill="#8c8c8c">Ireland</text>
<rect x="1011.9" y="830.9" width="35.5" height="3.4" fill="#0068b0"/>
<text x="1053.7" y="836.7" font-size="12" fill="#8c8c8c">France</text>
<rect x="1132.9" y="830.9" width="35.5" height="3.4" fill="#00956e"/>
<text x="1174.7" y="836.7" font-size="12" fill="#8c8c8c">Italy</text>
</svg>
</body></html>
